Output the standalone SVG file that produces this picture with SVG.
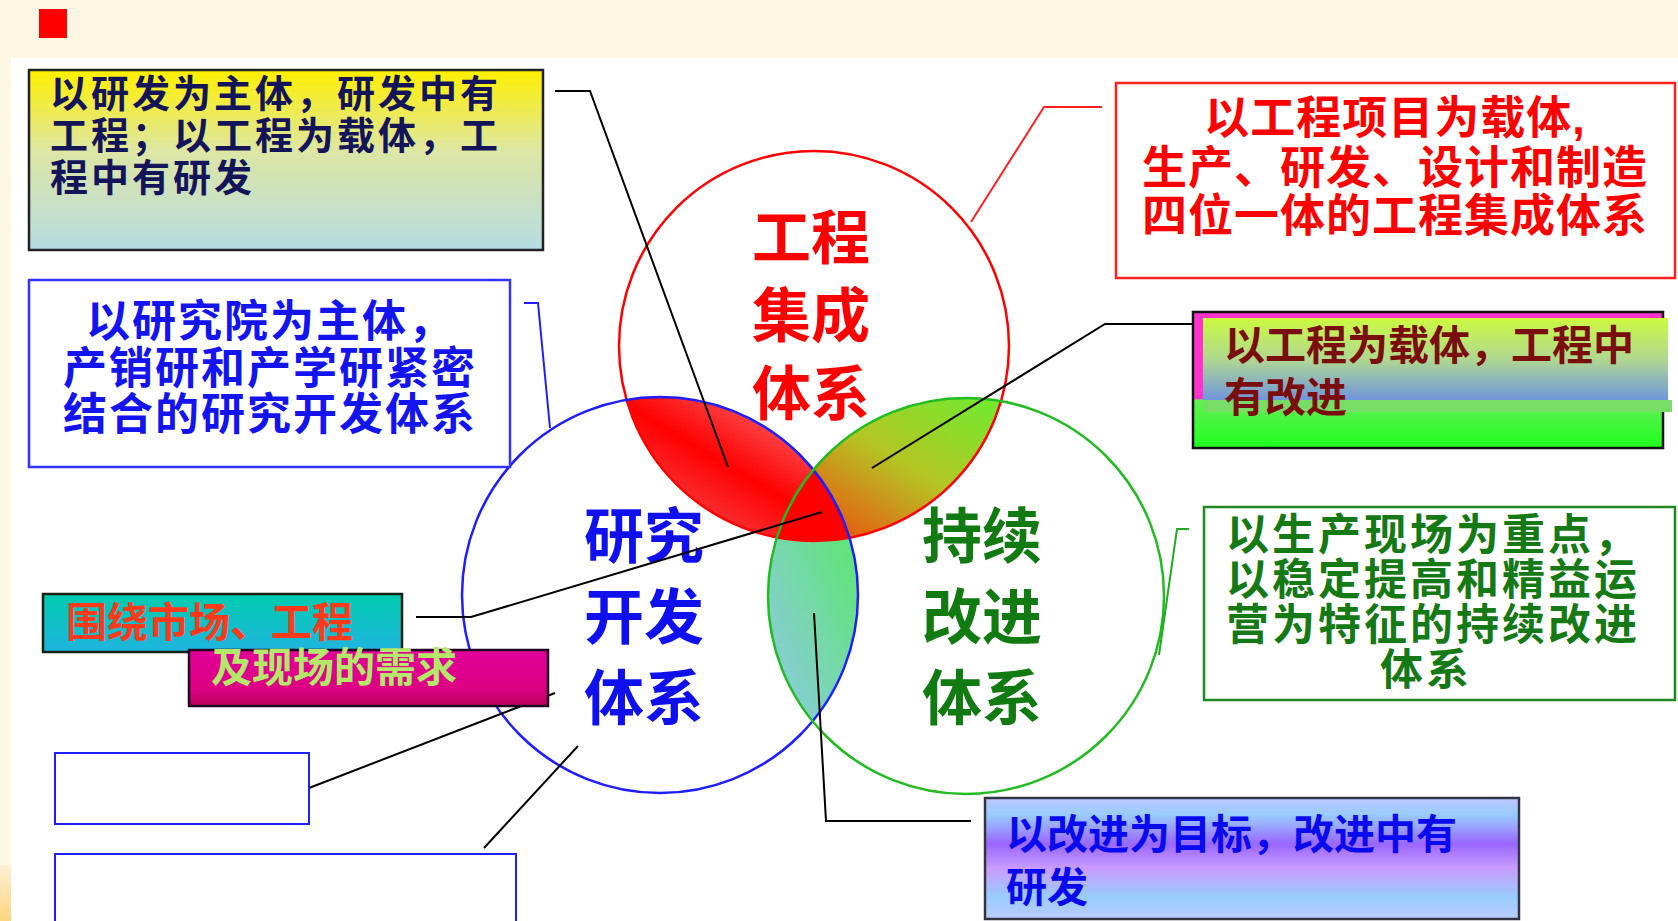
<svg xmlns="http://www.w3.org/2000/svg" width="1678" height="921" viewBox="0 0 1678 921">
<style>
.t{font-family:"Liberation Sans","Noto Sans CJK SC",sans-serif;font-weight:bold}
.box{stroke-width:2.5}
.ln{fill:none;stroke-width:2}
.ring{fill:none;stroke-width:2.5}
</style>
<defs>
<linearGradient id="gYellow" x1="0" y1="0" x2="0" y2="1">
<stop offset="0" stop-color="#FFF000"/><stop offset="0.45" stop-color="#DDE6A4"/><stop offset="1" stop-color="#B6DCE2"/>
</linearGradient>
<linearGradient id="gCyan" x1="0" y1="0" x2="0" y2="1">
<stop offset="0" stop-color="#00CCAE"/><stop offset="1" stop-color="#20B4E0"/>
</linearGradient>
<linearGradient id="gMag" x1="0" y1="0" x2="0" y2="1">
<stop offset="0" stop-color="#E2009A"/><stop offset="0.7" stop-color="#DC0082"/><stop offset="1" stop-color="#B8005A"/>
</linearGradient>
<linearGradient id="gMG" x1="0" y1="0" x2="0" y2="1">
<stop offset="0" stop-color="#FF33CC"/><stop offset="0.64" stop-color="#FF33CC"/><stop offset="0.645" stop-color="#66EE55"/><stop offset="1" stop-color="#1EFF1E"/>
</linearGradient>
<linearGradient id="gMGin" x1="0" y1="0" x2="0" y2="1">
<stop offset="0" stop-color="#CCFA40"/><stop offset="0.5" stop-color="#B0D890"/><stop offset="1" stop-color="#7096DE"/>
</linearGradient>
<linearGradient id="gPurple" x1="0" y1="0" x2="0" y2="1">
<stop offset="0" stop-color="#BCC8FF"/><stop offset="0.14" stop-color="#99CCFF"/><stop offset="0.38" stop-color="#9966FF"/><stop offset="0.58" stop-color="#C99CFF"/><stop offset="0.82" stop-color="#99CCFF"/><stop offset="1" stop-color="#BBCCFF"/>
</linearGradient>
<linearGradient id="gRB" x1="1" y1="0" x2="0" y2="1">
<stop offset="0" stop-color="#F5A6AE"/><stop offset="0.5" stop-color="#FF0000"/><stop offset="1" stop-color="#F07C84"/>
</linearGradient>
<linearGradient id="gRG" x1="0" y1="1" x2="1" y2="0">
<stop offset="0" stop-color="#F2380C"/><stop offset="0.25" stop-color="#E06A14"/><stop offset="0.55" stop-color="#B4C624"/><stop offset="1" stop-color="#62F232"/>
</linearGradient>
<linearGradient id="gBG" x1="1" y1="0" x2="0" y2="1">
<stop offset="0" stop-color="#50EE50"/><stop offset="1" stop-color="#94C6F2"/>
</linearGradient>
<linearGradient id="gStrip" x1="0" y1="0" x2="0" y2="1">
<stop offset="0" stop-color="#FFEFD4"/><stop offset="1" stop-color="#FFD680"/>
</linearGradient>
<clipPath id="cR"><circle cx="814" cy="346" r="195"/></clipPath>
<clipPath id="cB"><circle cx="660" cy="595" r="198"/></clipPath>
<clipPath id="cG"><circle cx="966" cy="596" r="198"/></clipPath>
</defs>

<!-- background -->
<rect x="0" y="0" width="1678" height="921" fill="#FFFFFF"/>
<rect x="0" y="0" width="1678" height="58" fill="#FEF7E4"/>
<rect x="0" y="58" width="11" height="807" fill="#FEF7E4"/>
<rect x="0" y="865" width="11" height="56" fill="url(#gStrip)"/>
<rect x="39" y="9" width="28" height="29" fill="#FF0000"/>

<!-- lens fills -->
<g id="overlaps">
<g clip-path="url(#cR)"><rect x="600" y="390" width="270" height="160" fill="url(#gRB)" clip-path="url(#cB)"/></g>
<g clip-path="url(#cR)"><rect x="760" y="390" width="260" height="160" fill="url(#gRG)" clip-path="url(#cG)"/></g>
<g clip-path="url(#cB)"><rect x="760" y="460" width="110" height="270" fill="url(#gBG)" clip-path="url(#cG)"/></g>
<g clip-path="url(#cR)"><g clip-path="url(#cB)"><rect x="700" y="420" width="230" height="140" fill="#FF0000" clip-path="url(#cG)"/></g></g>
</g>

<!-- circles -->
<g id="circle-engineering">
<circle class="ring" cx="814" cy="346" r="195" stroke="#FF0000"/>
<text class="t" x="811" y="259" font-size="59" fill="#FF0000" text-anchor="middle">工程</text>
<text class="t" x="811" y="337" font-size="59" fill="#FF0000" text-anchor="middle">集成</text>
<text class="t" x="811" y="415" font-size="59" fill="#FF0000" text-anchor="middle">体系</text>
</g>
<g id="circle-rd">
<circle class="ring" cx="660" cy="595" r="198" stroke="#1E1EFF"/>
<text class="t" x="644" y="558" font-size="60" fill="#1010EE" text-anchor="middle">研究</text>
<text class="t" x="644" y="639" font-size="60" fill="#1010EE" text-anchor="middle">开发</text>
<text class="t" x="644" y="720" font-size="60" fill="#1010EE" text-anchor="middle">体系</text>
</g>
<g id="circle-improve">
<circle class="ring" cx="966" cy="596" r="198" stroke="#22BB22"/>
<text class="t" x="982" y="558" font-size="60" fill="#117A11" text-anchor="middle">持续</text>
<text class="t" x="982" y="639" font-size="60" fill="#117A11" text-anchor="middle">改进</text>
<text class="t" x="982" y="720" font-size="60" fill="#117A11" text-anchor="middle">体系</text>
</g>

<!-- connectors -->
<g id="connectors">
<polyline class="ln" points="555,91 590,91 728,467" style="stroke:#000000"/>
<polyline class="ln" points="1102,107 1044,107 971,222" style="stroke:#FF2020"/>
<polyline class="ln" points="1193,324 1105,324 872,468" style="stroke:#000000"/>
<polyline class="ln" points="416,617 471,617 822,512" style="stroke:#000000"/>
<polyline class="ln" points="971,821 826,821 814,613" style="stroke:#000000"/>
<polyline class="ln" points="1189,529 1177,529 1159,655" style="stroke:#22AA22"/>
<polyline class="ln" points="309,788 555,693" style="stroke:#000000"/>
<polyline class="ln" points="484,848 578,746" style="stroke:#000000"/>
<polyline class="ln" points="524,303 538,303 550,428" style="stroke:#1E1EFF"/>
</g>

<!-- boxes -->
<g id="box-rd-main">
<rect class="box" x="29" y="70" width="514" height="180" fill="url(#gYellow)" stroke="#222222"/>
<text class="t" font-size="38" letter-spacing="3" fill="#14145A"><tspan x="50" y="107">以研发为主体，研发中有</tspan><tspan x="50" y="149">工程；以工程为载体，工</tspan><tspan x="50" y="191">程中有研发</tspan></text>
</g>
<g id="box-institute">
<rect class="box" x="29" y="280" width="481" height="187" fill="#FFFFFF" stroke="#3333FF"/>
<text class="t" font-size="44" letter-spacing="2" fill="#1414F0" text-anchor="middle"><tspan x="270" y="337">以研究院为主体，</tspan><tspan x="270" y="384">产销研和产学研紧密</tspan><tspan x="270" y="430">结合的研究开发体系</tspan></text>
</g>
<g id="box-project">
<rect class="box" x="1116" y="83" width="559" height="195" fill="#FFFFFF" stroke="#FF2020"/>
<text class="t" font-size="45" letter-spacing="1" fill="#FF0000" text-anchor="middle"><tspan x="1395" y="134">以工程项目为载体,</tspan><tspan x="1395" y="184">生产、研发、设计和制造</tspan><tspan x="1395" y="232">四位一体的工程集成体系</tspan></text>
</g>
<g id="box-eng-improve">
<rect class="box" x="1193" y="312" width="470" height="136" fill="url(#gMG)" stroke="#111111"/>
<rect x="1203" y="318" width="465" height="82" fill="url(#gMGin)"/>
<rect x="1205" y="400" width="467" height="12" fill="#77DD66"/>
<text class="t" font-size="41" fill="#7A0E0E"><tspan x="1224" y="360">以工程为载体，工程中</tspan><tspan x="1224" y="412">有改进</tspan></text>
</g>
<g id="box-production">
<rect class="box" x="1204" y="507" width="471" height="193" fill="#FFFFFF" stroke="#228822"/>
<text class="t" font-size="43" letter-spacing="3" fill="#157A15"><tspan x="1226" y="550">以生产现场为重点，</tspan><tspan x="1226" y="595">以稳定提高和精益运</tspan><tspan x="1226" y="640">营为特征的持续改进</tspan><tspan x="1380" y="685">体系</tspan></text>
</g>
<g id="box-market">
<rect class="box" x="43" y="594" width="359" height="58" fill="url(#gCyan)" stroke="#112211"/>
<rect class="box" x="189" y="650" width="359" height="56" fill="url(#gMag)" stroke="#220022"/>
<text class="t" x="66" y="637" font-size="41" fill="#FF3A1A">围绕市场、工程</text>
<text class="t" x="211" y="682" font-size="41" fill="#B4E86A">及现场的需求</text>
</g>
<g id="box-empty-a">
<rect x="55" y="753" width="254" height="71" fill="#FFFFFF" stroke="#1E1EFF" stroke-width="2"/>
</g>
<g id="box-empty-b">
<rect x="55" y="854" width="461" height="80" fill="#FFFFFF" stroke="#1E1EFF" stroke-width="2"/>
</g>
<g id="box-improve-goal">
<rect class="box" x="985" y="798" width="534" height="121" fill="url(#gPurple)" stroke="#333344"/>
<text class="t" font-size="41" fill="#0A0AEE"><tspan x="1006" y="849">以改进为目标，改进中有</tspan><tspan x="1006" y="902">研发</tspan></text>
</g>
</svg>
